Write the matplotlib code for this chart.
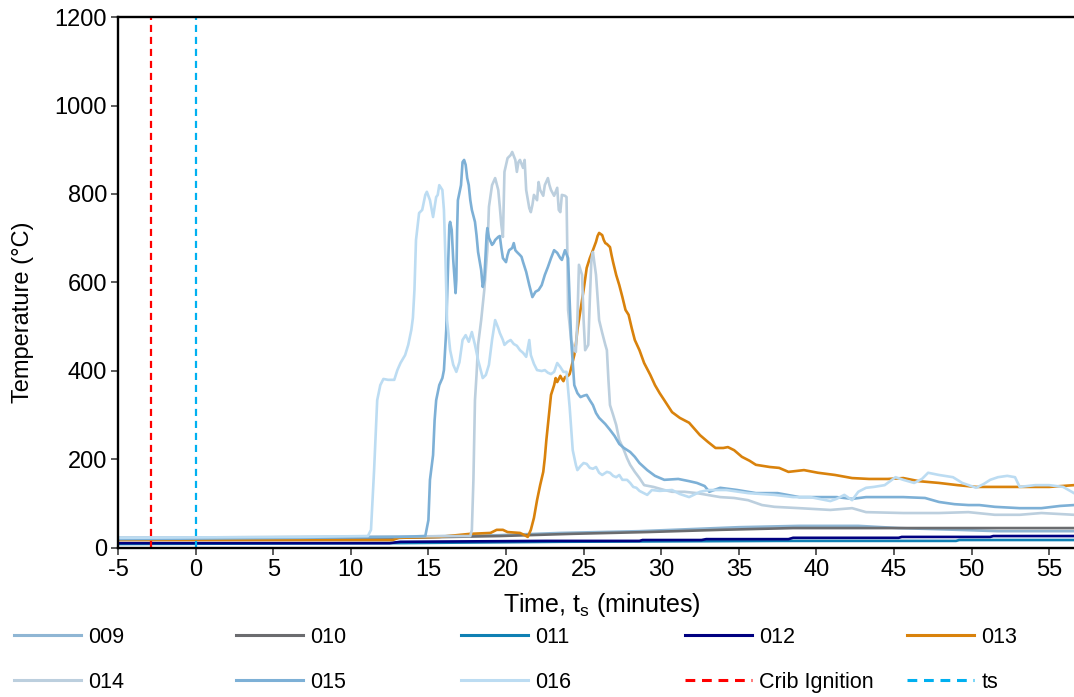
#!/usr/bin/env python3
"""
plot.py
-------
Compartment thermocouple temperatures vs time since ts, tests 009-016.
Writes out.png.
"""
import matplotlib
matplotlib.use("Agg")
import matplotlib.pyplot as plt

# ---- data ----
t009 = [-5.0, 13.1, 19.6, 23.5, 28.6, 35.0, 38.9, 42.7, 45.3, 49.1, 51.7, 56.6]
T009 = [23, 25, 29, 34, 38, 47, 50, 50, 45, 41, 38, 38]

t010 = [-5.0, 13.1, 19.6, 24.3, 29.1, 33.8, 38.5, 56.6]
T010 = [20, 23, 27, 32, 36, 41, 45, 45]

t011 = [-5.0, 13.1, 23.5, 37.4, 49.0, 49.2, 56.6]
T011 = [9, 11, 14, 16, 16, 18, 18]

t012 = [-5.0, 12.5, 13.2, 22.6, 28.6, 28.8, 32.6, 32.9, 38.2, 38.5, 45.3, 45.5,
        51.2, 51.4, 56.6]
T012 = [11, 11, 14, 16, 16, 18, 18, 20, 20, 23, 23, 25, 25, 27, 27]

t013 = [-5.0, 12.7, 13.1, 15.7, 17.7, 19.0, 19.4, 19.8, 20.1, 20.9, 21.2, 21.4,
        21.6, 21.8, 22.0, 22.2, 22.4, 22.5, 22.6, 22.8, 22.9, 23.1, 23.2, 23.3,
        23.5, 23.6, 23.7, 23.8, 24.0, 24.1, 24.2, 24.4, 24.5, 24.6, 24.8, 25.0,
        25.2, 25.4, 25.6, 25.8, 25.9, 26.0, 26.2, 26.3, 26.4, 26.5, 26.7, 26.8,
        26.9, 27.1, 27.3, 27.5, 27.7, 27.9, 28.1, 28.3, 28.6, 28.9, 29.3, 29.6,
        29.9, 30.2, 30.7, 31.2, 31.8, 32.5, 33.0, 33.5, 34.0, 34.3, 34.7, 35.2,
        35.7, 36.1, 37.0, 37.6, 38.2, 39.2, 40.1, 41.2, 42.3, 43.4, 44.6, 45.6,
        46.6, 47.9, 49.1, 50.3, 51.8, 52.6, 55.0, 56.6]
T013 = [18, 18, 23, 25, 32, 34, 41, 41, 36, 34, 29, 25,
        41, 68, 108, 142, 172, 203, 244, 312, 346, 368, 384, 375,
        389, 382, 377, 386, 389, 393, 407, 436, 459, 493, 538, 583,
        633, 655, 673, 692, 705, 712, 707, 696, 689, 687, 680, 662,
        646, 617, 594, 567, 538, 527, 497, 470, 447, 418, 391, 368,
        350, 334, 307, 294, 283, 255, 240, 226, 226, 228, 221, 206,
        197, 188, 183, 181, 172, 176, 170, 165, 158, 156, 156, 158,
        151, 147, 142, 138, 138, 138, 138, 142]

t014 = [-5.0, 6.7, 17.7, 17.8, 17.9, 18.0, 18.1, 18.2, 18.4, 18.6, 18.8, 18.9,
        19.1, 19.3, 19.5, 19.6, 19.7, 19.8, 19.85, 19.9, 20.1, 20.3, 20.4, 20.6,
        20.7, 20.8, 20.9, 21.1, 21.2, 21.3, 21.5, 21.6, 21.7, 21.8, 22.0, 22.1,
        22.2, 22.4, 22.5, 22.7, 22.8, 22.9, 23.1, 23.3, 23.4, 23.5, 23.6, 23.8,
        23.9, 23.95, 24.0, 24.2, 24.4, 24.5, 24.6, 24.7, 24.9, 25.0, 25.1, 25.3,
        25.4, 25.5, 25.6, 25.8, 25.9, 26.0, 26.2, 26.4, 26.5, 26.6, 26.7, 26.9,
        27.1, 27.3, 27.6, 27.8, 28.0, 28.3, 28.6, 28.9, 29.5, 30.2, 30.7, 31.5,
        32.3, 33.8, 34.7, 35.6, 36.5, 37.3, 38.9, 40.9, 42.3, 43.2, 45.6, 47.9,
        49.8, 51.5, 53.1, 54.5, 56.6]
T014 = [23, 25, 27, 41, 154, 334, 391, 459, 515, 583, 673, 771,
        820, 836, 809, 771, 730, 703, 775, 850, 881, 888, 895, 877,
        850, 872, 877, 859, 877, 809, 768, 759, 775, 798, 786, 827,
        809, 796, 820, 836, 820, 809, 796, 814, 764, 759, 798, 796,
        793, 673, 538, 470, 447, 443, 515, 640, 617, 515, 447, 459,
        560, 651, 669, 617, 567, 515, 486, 459, 447, 380, 323, 301,
        278, 244, 221, 203, 188, 172, 158, 142, 138, 131, 127, 127,
        124, 115, 113, 108, 97, 93, 90, 86, 90, 81, 79, 79,
        81, 75, 75, 79, 75]

t015 = [-5.0, 6.7, 13.1, 14.8, 15.0, 15.1, 15.3, 15.4, 15.5, 15.7, 15.9, 16.0,
        16.15, 16.2, 16.3, 16.35, 16.4, 16.5, 16.6, 16.75, 16.8, 16.85, 16.9, 17.1,
        17.2, 17.3, 17.4, 17.5, 17.6, 17.7, 17.8, 18.0, 18.1, 18.2, 18.4, 18.5,
        18.6, 18.75, 18.8, 18.9, 19.1, 19.2, 19.3, 19.5, 19.6, 19.7, 19.8, 20.0,
        20.1, 20.2, 20.4, 20.5, 20.6, 20.7, 20.9, 21.0, 21.1, 21.3, 21.5, 21.7,
        21.9, 22.1, 22.3, 22.5, 22.7, 22.9, 23.1, 23.3, 23.5, 23.6, 23.7, 23.8,
        24.0, 24.1, 24.2, 24.4, 24.6, 24.8, 25.0, 25.2, 25.4, 25.6, 25.8, 26.0,
        26.4, 26.7, 27.0, 27.3, 27.6, 28.0, 28.3, 28.6, 29.1, 29.6, 30.2, 31.1,
        31.8, 32.3, 32.8, 33.1, 33.8, 34.9, 36.1, 37.5, 38.9, 40.1, 41.3, 42.3,
        43.2, 44.6, 45.6, 47.0, 47.9, 48.9, 49.8, 50.5, 51.5, 53.1, 54.5, 55.7,
        56.6]
T015 = [20, 23, 25, 27, 63, 154, 210, 289, 334, 368, 384, 402,
        493, 560, 673, 730, 737, 719, 651, 576, 606, 719, 786, 820,
        872, 877, 866, 836, 820, 786, 764, 737, 707, 669, 628, 590,
        606, 707, 723, 701, 685, 689, 696, 703, 705, 678, 655, 646,
        662, 673, 678, 689, 673, 669, 662, 658, 646, 624, 594, 567,
        579, 583, 594, 617, 635, 655, 673, 667, 655, 651, 662, 673,
        655, 560, 470, 368, 350, 341, 344, 346, 334, 323, 305, 294,
        280, 267, 253, 235, 226, 217, 206, 192, 176, 163, 154, 156,
        151, 147, 140, 127, 136, 131, 124, 124, 115, 115, 115, 111,
        115, 115, 115, 113, 104, 99, 97, 97, 93, 90, 90, 95,
        97]

t016 = [-5.0, 6.7, 11.1, 11.3, 11.5, 11.7, 11.9, 12.1, 12.4, 12.8, 13.0, 13.2,
        13.5, 13.7, 13.9, 14.0, 14.1, 14.2, 14.4, 14.6, 14.8, 14.9, 15.1, 15.3,
        15.5, 15.6, 15.7, 15.9, 16.0, 16.1, 16.2, 16.4, 16.6, 16.8, 17.0, 17.2,
        17.4, 17.6, 17.8, 18.0, 18.2, 18.5, 18.7, 18.9, 19.1, 19.3, 19.5, 19.6,
        19.8, 19.9, 20.1, 20.3, 20.5, 20.7, 20.9, 21.1, 21.3, 21.5, 21.6, 21.8,
        22.0, 22.3, 22.5, 22.7, 22.9, 23.1, 23.3, 23.5, 23.7, 23.9, 24.1, 24.3,
        24.5, 24.6, 24.8, 25.0, 25.2, 25.4, 25.6, 25.8, 26.0, 26.2, 26.5, 26.7,
        26.9, 27.1, 27.3, 27.5, 27.8, 28.0, 28.2, 28.4, 28.6, 29.1, 29.4, 29.9,
        30.7, 31.2, 31.8, 32.5, 33.1, 34.2, 35.6, 37.3, 38.5, 39.6, 40.9, 41.3,
        41.8, 42.3, 42.7, 43.2, 43.7, 44.4, 45.1, 45.6, 46.3, 46.8, 47.2, 47.9,
        48.8, 49.4, 50.3, 50.8, 51.2, 51.7, 52.3, 52.8, 53.1, 54.1, 55.0, 55.9,
        56.6]
T016 = [23, 25, 27, 41, 176, 334, 368, 382, 380, 380, 402, 418,
        436, 459, 493, 520, 583, 696, 757, 764, 798, 805, 786, 748,
        793, 798, 820, 809, 764, 651, 515, 447, 414, 398, 420, 470,
        481, 466, 488, 459, 425, 384, 391, 414, 470, 515, 497, 486,
        470, 459, 466, 470, 461, 457, 447, 441, 432, 470, 436, 416,
        402, 400, 402, 396, 393, 398, 418, 409, 398, 398, 319, 221,
        188, 176, 185, 192, 190, 181, 179, 183, 170, 165, 172, 170,
        163, 160, 165, 154, 154, 147, 138, 136, 129, 120, 131, 129,
        131, 122, 115, 127, 131, 131, 124, 120, 115, 115, 106, 111,
        120, 108, 127, 136, 138, 142, 160, 154, 147, 156, 170, 165,
        160, 147, 136, 145, 154, 160, 163, 160, 138, 142, 142, 138,
        124]

crib_ignition = -2.9
ts_time = 0.0

series = [
    ("009", t009, T009, "#8FB6D4"),
    ("010", t010, T010, "#6B6C6F"),
    ("011", t011, T011, "#0F80B3"),
    ("012", t012, T012, "#000080"),
    ("013", t013, T013, "#D9820C"),
    ("014", t014, T014, "#BCCFDE"),
    ("015", t015, T015, "#7DB0D6"),
    ("016", t016, T016, "#BCDCF2"),
]

plt.rcParams["font.family"] = ["Liberation Sans", "DejaVu Sans"]
plt.rcParams["axes.unicode_minus"] = False

fig = plt.figure(figsize=(10.74, 6.97), dpi=100)
ax = fig.add_axes([0.1099, 0.2138, 0.8901, 0.7618])

handles = []
for name, t, T, c in series:
    h, = ax.plot(t, T, color=c, lw=1.9, label=name, solid_joinstyle="round")
    handles.append(h)

h_crib = ax.axvline(crib_ignition, color="#FF0000", lw=1.6, dashes=(3.2, 2.2),
                    label="Crib Ignition")
h_ts = ax.axvline(ts_time, color="#00B0F0", lw=1.6, dashes=(3.2, 2.2),
                  label="ts")
handles += [h_crib, h_ts]

ax.set_xlim(-5, 56.6)
ax.set_ylim(0, 1200)
ax.set_xticks(range(-5, 56, 5))
ax.set_yticks(range(0, 1201, 200))
ax.tick_params(axis="both", direction="out", length=5, width=1.2,
               color="#404040", labelsize=17, pad=3)

for s in ("left", "bottom", "top"):
    ax.spines[s].set_linewidth(1.7)
    ax.spines[s].set_color("black")
ax.spines["right"].set_visible(False)

ax.set_ylabel("Temperature (°C)", fontsize=17)
ax.yaxis.set_label_coords(-0.088, 0.444)
ax.set_xlabel("Time, t$_\\mathregular{s}$ (minutes)", fontsize=18)
ax.xaxis.set_label_coords(0.506, -0.081)

# legend: 5 columns x 2 rows, one small legend per column
col_x = [14, 236, 461, 685, 907]
for i, x in enumerate(col_x):
    pair = [handles[i], handles[i + 5]]
    leg = fig.legend(pair, [h.get_label() for h in pair],
                     loc="upper left", bbox_to_anchor=(x / 1074, 1 - 627 / 697),
                     frameon=False, fontsize=15.5, handlelength=3.1,
                     handletextpad=0.35, labelspacing=1.1, borderpad=0,
                     borderaxespad=0)
    for ln in leg.get_lines():
        ln.set_linewidth(2.2)

fig.savefig("out.png", dpi=100)
